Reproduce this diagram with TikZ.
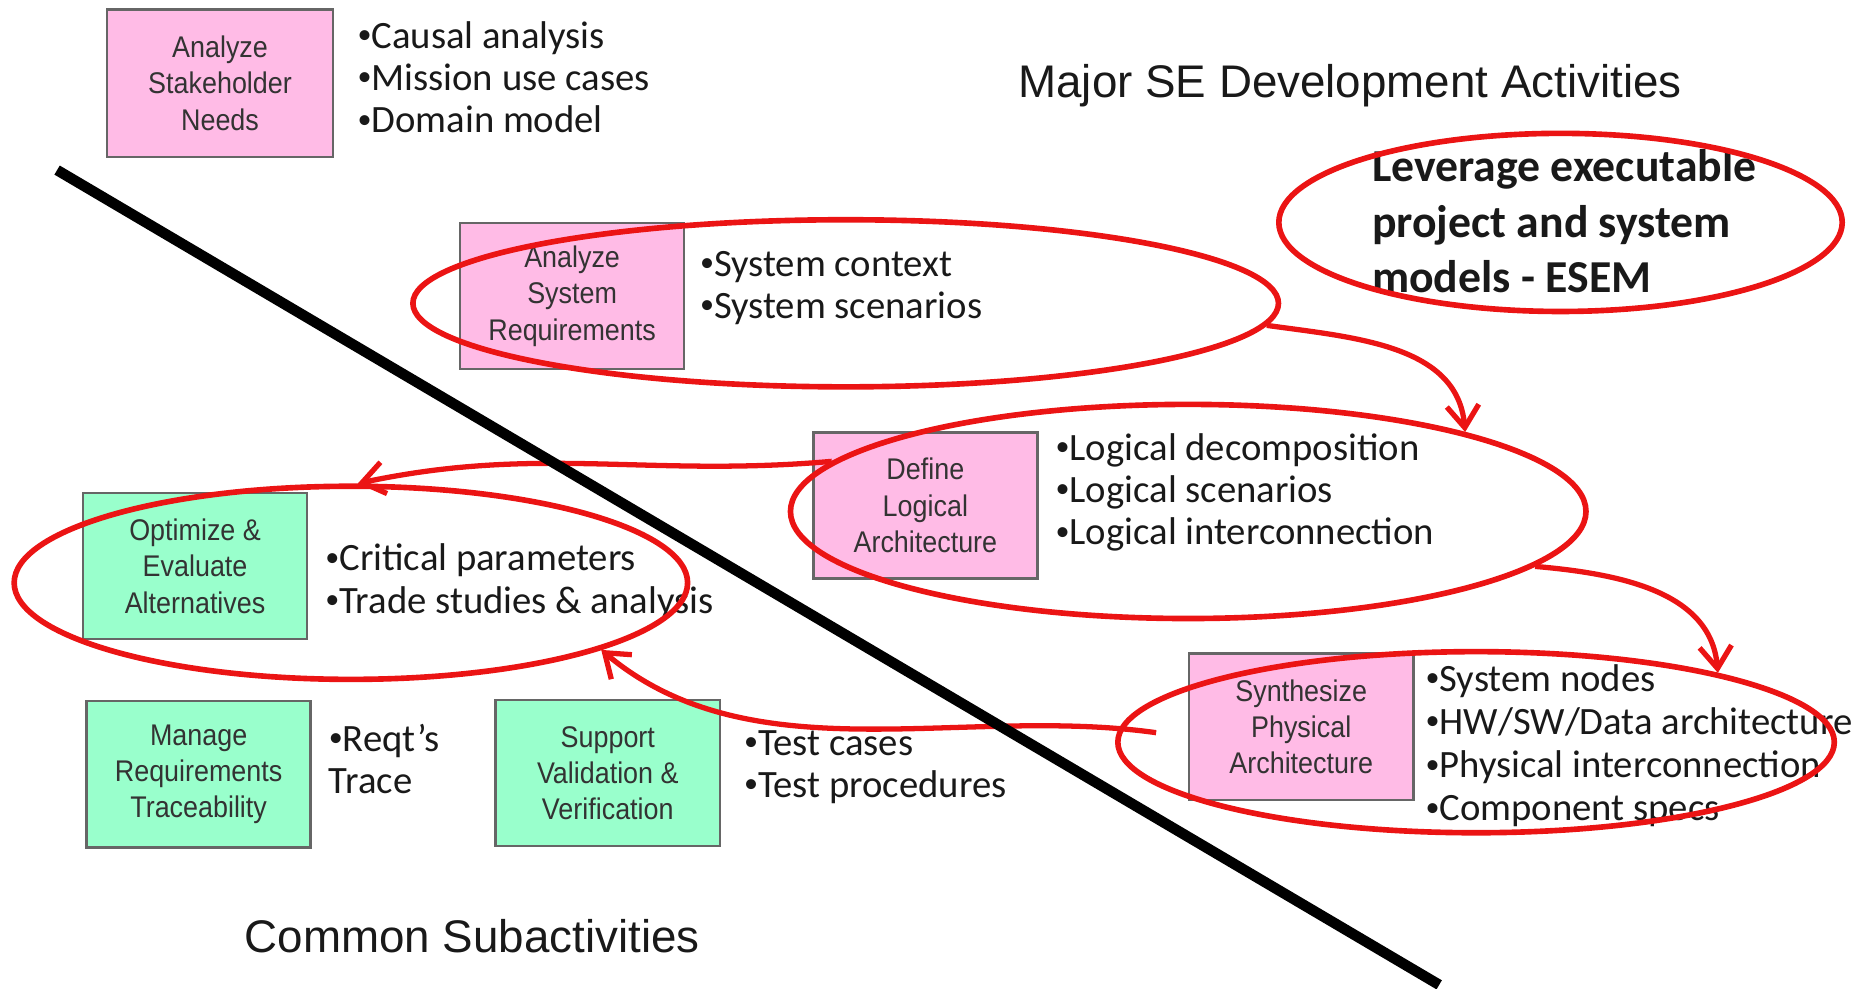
\documentclass[tikz,border=0pt]{standalone}
\usepackage{fontspec}
\setmainfont{Carlito}
\newfontfamily\arialfont{Liberation Sans}
\newfontfamily\boxfont[FakeStretch=0.9]{Liberation Sans}
\usepackage{xcolor}
\usetikzlibrary{shapes.geometric,arrows.meta}
\definecolor{actpink}{RGB}{255,187,230}
\definecolor{subgreen}{RGB}{153,255,204}
\definecolor{ringred}{RGB}{235,20,20}
\newcommand{\bul}{{\fontsize{8}{8}\selectfont\raisebox{0.35ex}{•}}}

\begin{document}
\begin{tikzpicture}[x=0.0118941cm, y=-0.0118941cm,
	activity/.style={draw=black!60, line width=0.7pt, minimum width=2.24cm, minimum height=1.46cm,
		inner sep=1pt, align=center, text=black!80, font=\boxfont\fontsize{8.5}{10.3}\selectfont},
	bullets/.style={anchor=west, align=left, inner sep=0pt, text=black!90, font=\fontsize{11}{12}\selectfont},
	heading/.style={inner sep=0pt, text=black!90, font=\arialfont\fontsize{13}{15}\selectfont},
	ring/.style={draw=ringred, line width=1.6pt, ellipse, inner sep=0pt},
	flow/.style={draw=ringred, line width=1.5pt, -{Straight Barb[length=2.2mm, width=3.2mm]}}]
	\useasboundingbox (0, 0) rectangle (1568, 831);

	\node[activity, fill=actpink, minimum width=2.26cm, minimum height=1.475cm] (ASN) at (185, 70) {Analyze\\Stakeholder\\Needs};
	\node[activity, fill=actpink] (ASR) at (481, 249) {Analyze\\System\\Requirements};
	\node[activity, fill=actpink] (DLA) at (778, 425) {Define\\Logical\\Architecture};
	\node[activity, fill=actpink] (SPA) at (1094, 611) {Synthesize\\Physical\\Architecture};
	\node[activity, fill=subgreen] (OEA) at (164, 476) {Optimize \&\\Evaluate\\Alternatives};
	\node[activity, fill=subgreen] (MRT) at (167, 651) {Manage\\Requirements\\Traceability};
	\node[activity, fill=subgreen] (SVV) at (511, 650) {Support\\Validation \&\\Verification};

	\node[bullets] (lASN) at (300, 65) {\bul Causal analysis\\\bul Mission use cases\\\bul Domain model};
	\node[bullets] (lASR) at (588, 242) {\bul System context\\\bul System scenarios};
	\node[bullets] (lDLA) at (887, 414) {\bul Logical decomposition\\\bul Logical scenarios\\\bul Logical interconnection};
	\node[bullets, font=\fontsize{11}{12.3}\selectfont] (lSPA) at (1198, 627) {\bul System nodes\\\bul HW/SW/Data architecture\\\bul Physical interconnection\\\bul Component specs};
	\node[bullets] (lOEA) at (273, 489) {\bul Critical parameters\\\bul Trade studies \& analysis};
	\node[bullets] (lMRT) at (276, 638) {\bul Reqt’s\\Trace};
	\node[bullets] (lSVV) at (625, 645) {\bul Test cases\\\bul Test procedures};

	\node[heading] (major) at (1135, 72) {Major SE Development Activities};
	\node[heading] (common) at (397, 787) {Common Subactivities};
	\node[bullets, font=\bfseries\fontsize{13}{15.7}\selectfont] (esem) at (1153, 186) {Leverage executable\\project and system\\models - ESEM};

	% red rings
	\node[ring, minimum width=5.63cm, minimum height=1.78cm] (rESEM) at (1312, 187) {};
	\node[ring, minimum width=8.65cm, minimum height=1.67cm] (rASR) at (711, 255) {};
	\node[ring, minimum width=7.95cm, minimum height=2.14cm] (rDLA) at (999, 430) {};
	\node[ring, minimum width=6.73cm, minimum height=1.93cm] (rOEA) at (295, 490) {};
	\node[ring, minimum width=7.16cm, minimum height=1.81cm] (rSPA) at (1241, 624) {};

	\draw[flow] (rASR.-3) to[out=-8, in=95] (rDLA.16);
	\draw[flow] (rDLA.-9) to[out=-5, in=95] (rSPA.16);
	\draw[flow] (rDLA.172) to[out=185, in=12] (rOEA.86);
	\coordinate (spaIn) at (972, 616);
	\draw[flow] (spaIn) to[out=172, in=-40, looseness=0.9] (rOEA.-15);

	\draw[line width=3pt] (48, 143) -- (1210, 828);
\end{tikzpicture}
\end{document}
